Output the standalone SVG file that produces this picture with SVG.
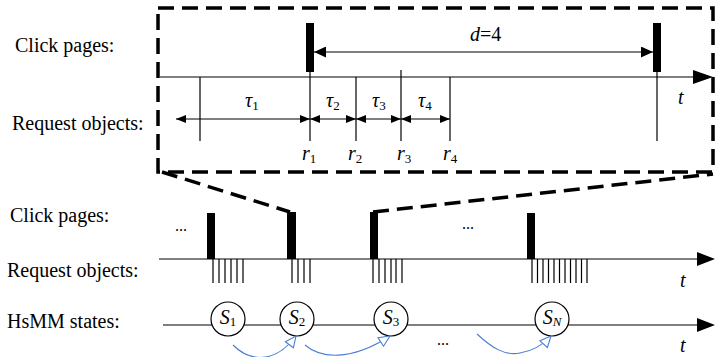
<svg xmlns="http://www.w3.org/2000/svg" width="715" height="357" viewBox="0 0 715 357">
<style>
text{font-family:'Liberation Serif','Times New Roman','DejaVu Serif',serif;fill:#000}
.lbl{font-size:20px}
.it{font-style:italic}
.axis{stroke:#555;stroke-width:1.4;fill:none}
.tick{stroke:#000;stroke-width:1.2;fill:none}
.dash{stroke:#000;stroke-width:3.5;fill:none;stroke-dasharray:16 8}
.bar{fill:#000}
.dim{stroke:#000;stroke-width:1.2;fill:none}
.state{fill:#fff;stroke:#000;stroke-width:1.2}
.flow{stroke:#4a7fd4;stroke-width:1.1;fill:none}
</style>
<defs>
<marker id="ahs" markerWidth="10" markerHeight="8" refX="10" refY="4" orient="auto-start-reverse" markerUnits="userSpaceOnUse">
<path d="M0,0 L10,4 L0,8 Z" fill="#000"/>
</marker>
<marker id="ahb" markerWidth="13" markerHeight="11" refX="12" refY="5.5" orient="auto-start-reverse" markerUnits="userSpaceOnUse">
<path d="M0,0 L12,5.5 L0,11 Z" fill="#000"/>
</marker>
<marker id="hollow" markerWidth="14" markerHeight="12" refX="12" refY="6" orient="auto" markerUnits="userSpaceOnUse">
<path d="M1,1 L12,6 L1,11 Z" fill="#fff" stroke="#4a7fd4" stroke-width="1.1"/>
</marker>
</defs>
<rect width="715" height="357" fill="#fff"/>

<g font-family="'Liberation Serif', 'Times New Roman', 'DejaVu Serif', serif">
<g id="zoom-box">
<rect x="158" y="8" width="555" height="164" class="dash"/>
</g>

<g id="labels">
<text class="lbl" x="15" y="52">Click pages:</text>
<text class="lbl" x="12" y="130">Request objects:</text>
<text class="lbl" x="10" y="222">Click pages:</text>
<text class="lbl" x="7" y="277">Request objects:</text>
<text class="lbl" x="7" y="328">HsMM states:</text>
</g>

<g id="axes">
<line class="axis" x1="160" y1="77" x2="695" y2="77"/>
<polygon points="693,70 713,77 693,84" fill="#000"/>
<line class="axis" x1="159" y1="259" x2="699" y2="259"/>
<polygon points="697,252 715,259 697,266" fill="#000"/>
<line class="axis" x1="163" y1="325" x2="699" y2="325"/>
<polygon points="697,318 715,325 697,332" fill="#000"/>
<text class="lbl it" x="678" y="104">t</text>
<text class="lbl it" x="680" y="287">t</text>
<text class="lbl it" x="680" y="352">t</text>
</g>

<g id="detail-clicks">
<rect class="bar" x="306" y="23" width="8" height="49"/>
<rect class="bar" x="653" y="23" width="8" height="49"/>
<text class="lbl" x="470" y="41"><tspan class="it">d</tspan>=4</text>
</g>
<g id="detail-requests">
<line class="tick" x1="200" y1="77" x2="200" y2="141"/>
<line class="tick" x1="310" y1="72" x2="310" y2="141"/>
<line class="tick" x1="356" y1="77" x2="356" y2="141"/>
<line class="tick" x1="401" y1="70" x2="401" y2="141"/>
<line class="tick" x1="450" y1="77" x2="450" y2="141"/>
<line class="tick" x1="657" y1="72" x2="657" y2="141"/>
<text class="lbl" x="245" y="107"><tspan class="it">τ</tspan><tspan font-size="13" dy="3">1</tspan></text>
<text class="lbl" x="326" y="107"><tspan class="it">τ</tspan><tspan font-size="13" dy="3">2</tspan></text>
<text class="lbl" x="372" y="107"><tspan class="it">τ</tspan><tspan font-size="13" dy="3">3</tspan></text>
<text class="lbl" x="418" y="107"><tspan class="it">τ</tspan><tspan font-size="13" dy="3">4</tspan></text>
<text class="lbl" x="302" y="160"><tspan class="it">r</tspan><tspan font-size="13" dy="3">1</tspan></text>
<text class="lbl" x="348" y="160"><tspan class="it">r</tspan><tspan font-size="13" dy="3">2</tspan></text>
<text class="lbl" x="397" y="160"><tspan class="it">r</tspan><tspan font-size="13" dy="3">3</tspan></text>
<text class="lbl" x="443" y="160"><tspan class="it">r</tspan><tspan font-size="13" dy="3">4</tspan></text>
</g>

<g id="overview-clicks">
<rect class="bar" x="207" y="213" width="8" height="46"/>
<rect class="bar" x="287" y="212" width="9" height="47"/>
<rect class="bar" x="370" y="212" width="8" height="47"/>
<rect class="bar" x="527" y="213" width="8" height="46"/>
<text x="175" y="231" font-size="16">...</text>
<text x="462" y="229" font-size="16">...</text>
</g>
<g id="overview-requests" class="tick">
<path d="M213,259v24M219,259v24M225,259v24M231,259v24M237,259v24M243,259v24"/>
<path d="M292,259v24M298,259v24M304,259v24M310,259v24"/>
<path d="M373,259v24M379,259v24M385,259v24M391,259v24M396,259v24M402,259v24"/>
<path d="M532,259v24M537.5,259v24M543,259v24M548.5,259v24M554,259v24M559.5,259v24M565,259v24M570.5,259v24M576,259v24M581.5,259v24M587,259v24"/>
</g>

<g id="state-S1">
<circle class="state" cx="228" cy="319" r="17"/>
<text class="lbl" x="228" y="324" text-anchor="middle"><tspan class="it">S</tspan><tspan font-size="13" dy="2">1</tspan></text>
</g>
<g id="state-S2">
<circle class="state" cx="297" cy="319" r="17"/>
<text class="lbl" x="297" y="324" text-anchor="middle"><tspan class="it">S</tspan><tspan font-size="13" dy="2">2</tspan></text>
</g>
<g id="state-S3">
<circle class="state" cx="391" cy="319" r="17"/>
<text class="lbl" x="391" y="324" text-anchor="middle"><tspan class="it">S</tspan><tspan font-size="13" dy="2">3</tspan></text>
</g>
<g id="state-SN">
<circle class="state" cx="552" cy="319" r="17"/>
<text class="lbl" x="552" y="324" text-anchor="middle"><tspan class="it">S</tspan><tspan class="it" font-size="13" dy="2">N</tspan></text>
</g>
<text x="437" y="345" font-size="16">...</text>

<g id="connectors">
<line class="dim" x1="314" y1="52" x2="653" y2="52" marker-start="url(#ahb)" marker-end="url(#ahb)"/>
<line class="dim" x1="176" y1="119" x2="310" y2="119" marker-start="url(#ahs)" marker-end="url(#ahs)"/>
<line class="dim" x1="310" y1="119" x2="356" y2="119" marker-start="url(#ahs)" marker-end="url(#ahs)"/>
<line class="dim" x1="356" y1="119" x2="401" y2="119" marker-start="url(#ahs)" marker-end="url(#ahs)"/>
<line class="dim" x1="401" y1="119" x2="450" y2="119" marker-start="url(#ahs)" marker-end="url(#ahs)"/>
<path class="dash" d="M162,172 L290,212"/>
<path class="dash" d="M373,212 L713,174"/>
<path class="flow" d="M233,345 C250,362 275,364 296,336" marker-end="url(#hollow)"/>
<path class="flow" d="M305,345 C320,358 350,362 390,336" marker-end="url(#hollow)"/>
<path class="flow" d="M477,334 C492,348 505,356 520,353 C532,351 542,346 551,336" marker-end="url(#hollow)"/>
</g>
</g>
</svg>
